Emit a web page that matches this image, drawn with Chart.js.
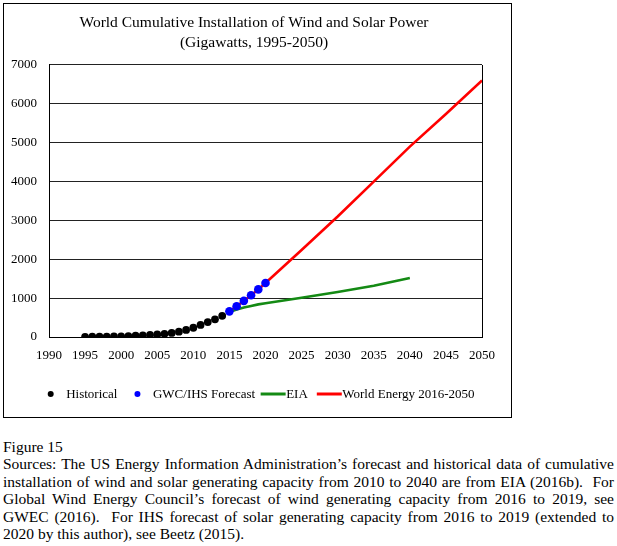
<!DOCTYPE html>
<html>
<head>
<meta charset="utf-8">
<script src="https://cdn.jsdelivr.net/npm/chart.js@4.4.1/dist/chart.umd.min.js"></script>
<style>
  html, body { margin: 0; padding: 0; background: #fff; }
  body { width: 617px; height: 546px; position: relative; overflow: hidden; font-family: "Liberation Serif", "Times New Roman", serif; }
  #frame { position: absolute; left: 3px; top: 3px; border: 1px solid #000; width: 507px; height: 413px; }
  #frame canvas { display: block; }
  #caption { position: absolute; left: 3px; top: 437.5px; width: 611px; font-size: 15.5px; line-height: 17.5px; color: #000; }
  #caption .j { text-align: justify; text-align-last: justify; }
  #warm { position: absolute; left: -1000px; top: 0; font-family: "Liberation Serif"; font-size: 13px; }
</style>
</head>
<body>
<div id="warm">Warm 0123456789</div>
<div id="frame"><canvas id="c" width="507" height="413"></canvas></div>
<div id="caption">
  <div>Figure 15</div>
  <div class="j">Sources: The US Energy Information Administration’s forecast and historical data of cumulative</div>
  <div class="j">installation of wind and solar generating capacity from 2010 to 2040 are from EIA (2016b).&nbsp; For</div>
  <div class="j">Global Wind Energy Council’s forecast of wind generating capacity from 2016 to 2019, see</div>
  <div class="j">GWEC (2016).&nbsp; For IHS forecast of solar generating capacity from 2016 to 2019 (extended to</div>
  <div>2020 by this author), see Beetz (2015).</div>
</div>
<script>
// ---- data (gigawatts) ----
const histYears = [1995,1996,1997,1998,1999,2000,2001,2002,2003,2004,2005,2006,2007,2008,2009,2010,2011,2012,2013,2014];
const histValues = [5,6,8,10,14,18,25,33,41,51,64,81,105,137,182,238,310,385,456,545];
const gwcYears = [2015,2016,2017,2018,2019,2020];
const gwcValues = [660,790,930,1075,1225,1390];
const eiaYears = [2015,2016,2017,2018,2019,2020,2025,2030,2035,2040];
const eiaValues = [645,705,760,800,840,870,1010,1160,1320,1520];
const weYears = [2015,2016,2017,2018,2019,2020,2025,2030,2035,2040,2045,2050];
const weValues = [660,790,930,1075,1225,1390,2240,3100,4000,4900,5740,6600];
const xTicks = [1990,1995,2000,2005,2010,2015,2020,2025,2030,2035,2040,2045,2050];
const yTicks = [0,1000,2000,3000,4000,5000,6000,7000];
const titleLines = ['World Cumulative Installation of Wind and Solar Power', '(Gigawatts, 1995-2050)'];
const seriesNames = ['Historical', 'GWC/IHS Forecast', 'EIA', 'World Energy 2016-2050'];

const toXY = (xs, ys) => xs.map((x, i) => ({x: x, y: ys[i]}));
const FONT = "'Liberation Serif', serif";

// centre the title over the region to the right of the tick labels, as in the source
const titleShift = {
  id: 'titleShift',
  afterLayout(chart) {
    const t = chart.titleBlock;
    if (t) { t.left = 22; t.width = t.right - t.left; }
  }
};

const legendPlugin = {
  id: 'customLegend',
  afterDraw(chart) {
    const ctx = chart.ctx;
    const y = 390;
    let x = 46.7;
    ctx.save();
    ctx.font = '13px ' + FONT;
    ctx.textBaseline = 'middle';
    ctx.textAlign = 'left';
    ctx.fillStyle = '#000';
    chart.data.datasets.forEach((ds, i) => {
      const label = ds.label;
      if (ds.showLine === false) {
        ctx.beginPath();
        ctx.arc(x, y, 3, 0, Math.PI * 2);
        ctx.fillStyle = ds.pointBackgroundColor;
        ctx.fill();
        x += 15.5;
        ctx.fillStyle = '#000';
        ctx.fillText(label, x, y + 0.5);
        x += ctx.measureText(label).width + (i === 0 ? 20 : 5.5);
      } else {
        ctx.beginPath();
        ctx.moveTo(x, y);
        ctx.lineTo(x + 25, y);
        ctx.strokeStyle = ds.borderColor;
        ctx.lineWidth = 3;
        ctx.stroke();
        x += 25.5;
        ctx.fillStyle = '#000';
        ctx.fillText(label, x, y + 0.5);
        x += ctx.measureText(label).width + 9;
      }
    });
    ctx.restore();
  }
};

function drawChart() {
  Chart.defaults.font.family = FONT;
  new Chart(document.getElementById('c'), {
    type: 'scatter',
    data: {
      datasets: [
        { label: seriesNames[0], data: toXY(histYears, histValues), showLine: false,
          pointRadius: 3.9, pointBackgroundColor: '#000000', pointBorderColor: '#000000', pointBorderWidth: 0 },
        { label: seriesNames[1], data: toXY(gwcYears, gwcValues), showLine: false,
          pointRadius: 4.3, pointBackgroundColor: '#0000ff', pointBorderColor: '#0000ff', pointBorderWidth: 0 },
        { label: seriesNames[2], data: toXY(eiaYears, eiaValues), showLine: true,
          borderColor: '#148a14', borderWidth: 2.6, pointRadius: 0, tension: 0 },
        { label: seriesNames[3], data: toXY(weYears, weValues), showLine: true,
          borderColor: '#ff0000', borderWidth: 2.6, pointRadius: 0, tension: 0 }
      ]
    },
    options: {
      responsive: false,
      animation: false,
      layout: { padding: { top: 0, right: 29, bottom: 0, left: 0 } },
      plugins: {
        legend: { display: false },
        tooltip: { enabled: false },
        title: {
          display: true,
          text: titleLines,
          color: '#000',
          font: { family: FONT, size: 15.5, weight: 'normal', lineHeight: 1.29 },
          padding: { top: 8.5, bottom: 12.5 }
        }
      },
      scales: {
        x: {
          type: 'linear',
          min: 1990, max: 2050,
          afterBuildTicks: (s) => { s.ticks = xTicks.map(v => ({value: v})); },
          afterFit: (s) => { s.height = 80; },
          grid: {
            drawTicks: false,
            lineWidth: 1,
            color: (c) => (c.tick && c.tick.value === 2050) ? '#000' : 'rgba(0,0,0,0)'
          },
          border: { display: true, color: '#000', width: 1 },
          ticks: { color: '#000', padding: 11, maxRotation: 0, autoSkip: false,
                   font: { family: FONT, size: 13 }, callback: (v) => String(v) }
        },
        y: {
          min: 0, max: 7000,
          afterBuildTicks: (s) => { s.ticks = yTicks.map(v => ({value: v})); },
          afterFit: (s) => { s.width = 45; },
          grid: { drawTicks: false, color: '#222', lineWidth: 1 },
          border: { display: true, color: '#000', width: 1 },
          ticks: { color: '#000', padding: 12, font: { family: FONT, size: 13 }, callback: (v) => String(v) }
        }
      }
    },
    plugins: [titleShift, legendPlugin]
  });
}

let drawn = false;
function once() { if (!drawn) { drawn = true; drawChart(); } }
if (document.fonts && document.fonts.load) {
  Promise.all([
    document.fonts.load("13px 'Liberation Serif'"),
    document.fonts.load("16px 'Liberation Serif'")
  ]).then(once, once);
  setTimeout(once, 300);
} else {
  once();
}
</script>
</body>
</html>
